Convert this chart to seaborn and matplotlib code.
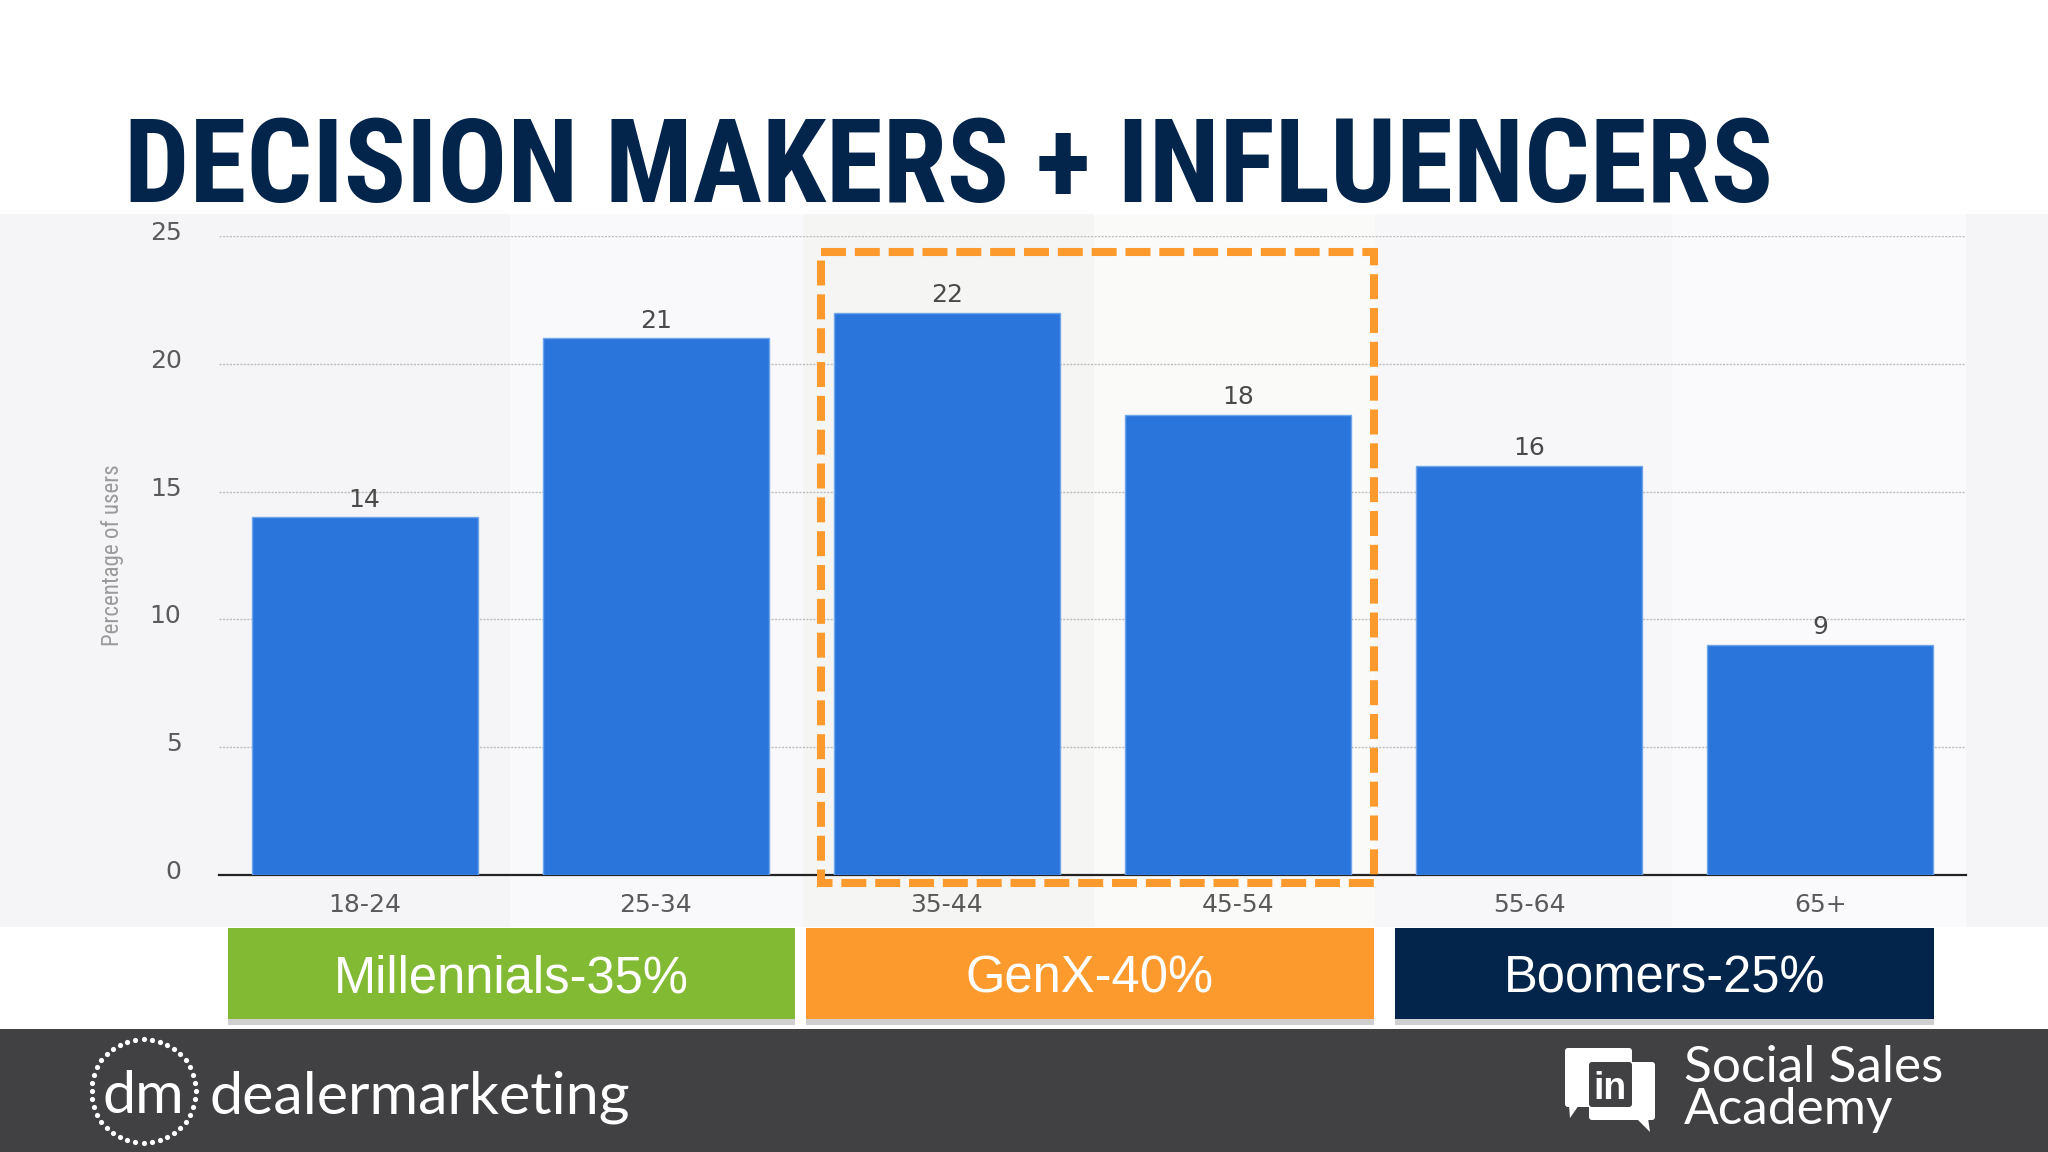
import numpy as np
import pandas as pd
import seaborn as sns
import matplotlib.pyplot as plt
from matplotlib.patches import Rectangle, FancyBboxPatch, Polygon
from matplotlib.transforms import ScaledTranslation

# =========================
# DATA
# =========================
age_groups = ['18-24', '25-34', '35-44', '45-54', '55-64', '65+']
pct_users = [14, 21, 22, 18, 16, 9]
y_ticks = [0, 5, 10, 15, 20, 25]
title = 'DECISION MAKERS + INFLUENCERS'
y_label = 'Percentage of users'
gen_labels = ['Millennials-35%', 'GenX-40%', 'Boomers-25%']

BLUE = '#2a75dc'
NAVY = '#03254c'
ORANGE = '#fd9a2e'
GREEN = '#82ba33'
DARK = '#414042'

sns.set_theme(style='white')
plt.rcParams['font.family'] = ['DejaVu Sans']

fig = plt.figure(figsize=(20.48, 11.52), dpi=100, facecolor='white')


def pixel_axes(zorder):
    a = fig.add_axes([0, 0, 1, 1], zorder=zorder)
    a.set_xlim(0, 2048)
    a.set_ylim(1152, 0)
    a.axis('off')
    a.patch.set_alpha(0)
    return a


# =========================
# Background panel + bands
# =========================
back = pixel_axes(0)
back.add_patch(Rectangle((0, 214), 2048, 713, fc='#f5f5f7', ec='none'))
bands = [(510, 803, '#f9f8fb'), (803, 1094, '#f5f5f3'), (1094, 1375, '#fafaf8'),
         (1375, 1672, '#f7f7f9'), (1672, 1966, '#fafafc')]
for x0, x1, c in bands:
    back.add_patch(Rectangle((x0, 214), x1 - x0, 713, fc=c, ec='none'))

# =========================
# Bar chart
# =========================
ax = fig.add_axes([219 / 2048, 1 - 875 / 1152, 1747 / 2048, 639 / 1152], zorder=1)
ax.patch.set_alpha(0)
df = pd.DataFrame({'age': age_groups, 'pct': pct_users})
sns.barplot(data=df, x='age', y='pct', color=BLUE, saturation=1, width=0.776,
            edgecolor='#6fa5ea', linewidth=1, ax=ax, zorder=3)
ax.set_xlim(-0.5, 5.5)
ax.set_ylim(0, 25)
ax.set_yticks(y_ticks)
ax.set_xlabel('')
ax.set_ylabel(y_label, fontsize=16.5, color='#9a9a9a', fontfamily='Roboto Condensed')
ax.yaxis.set_label_coords(-0.0545, 0.5)
ax.grid(axis='y', color='#bdbdbd', linestyle=(0, (1.5, 1)), linewidth=1)
ax.set_axisbelow(True)
for s in ['top', 'left', 'right']:
    ax.spines[s].set_visible(False)
ax.spines['bottom'].set_color('#222222')
ax.spines['bottom'].set_linewidth(1.6)
ax.tick_params(axis='both', length=0, labelsize=18, labelcolor='#5a5a5a')
ax.tick_params(axis='y', pad=27)
ax.tick_params(axis='x', pad=13)
# y labels sit a little above their grid lines
nudge = ScaledTranslation(0, 4 / 72, fig.dpi_scale_trans)
for lab in ax.get_yticklabels():
    lab.set_transform(lab.get_transform() + nudge)
ax.bar_label(ax.containers[0], padding=4, fontsize=18, color='#4a4a4a')

# =========================
# Overlays
# =========================
top = pixel_axes(2)
top.text(124, 202, title, fontsize=83.3, fontweight='bold', color=NAVY,
         fontfamily='Roboto Condensed', ha='left', va='baseline')

# dashed highlight
top.add_patch(Rectangle((821, 252), 553, 631, fc='none', ec=ORANGE, lw=5.8,
                        linestyle=(0, (3.1, 1.1))))

# generation boxes
boxes = [(228, 795, GREEN), (806, 1374, ORANGE), (1395, 1934, NAVY)]
for (x0, x1, c), lab in zip(boxes, gen_labels):
    top.add_patch(Rectangle((x0, 1019), x1 - x0, 6, fc='#cfcfcf', ec='none'))
    top.add_patch(Rectangle((x0, 928), x1 - x0, 91, fc=c, ec='none'))
    top.text((x0 + x1) / 2, 979, lab, color='white', fontsize=36.5,
             fontfamily='Liberation Sans', ha='center', va='center')

# footer
top.add_patch(Rectangle((0, 1029), 2048, 123, fc=DARK, ec='none'))
ang = np.deg2rad(np.arange(0, 360, 9))
top.scatter(143.5 + 52 * np.cos(ang), 1091 + 52 * np.sin(ang), s=14, color='white', lw=0)
top.text(143.5, 1113, 'dm', color='white', fontsize=42.7, fontfamily='Lato',
         ha='center', va='baseline')
top.text(209, 1113, 'dealermarketing', color='white', fontsize=42.7, fontfamily='Lato',
         ha='left', va='baseline')

# linkedin bubble icon
for x, y, w, h in [(1565, 1048, 67, 59), (1589, 1062, 66, 58)]:
    top.add_patch(FancyBboxPatch((x + 3, y + 3), w - 6, h - 6, boxstyle='round,pad=3',
                                 fc='white', ec='none'))
top.add_patch(Polygon([(1569, 1105), (1570, 1118), (1579, 1105)], fc='white', ec='none'))
top.add_patch(Polygon([(1636, 1118), (1650, 1132), (1648, 1118)], fc='white', ec='none'))
top.add_patch(FancyBboxPatch((1592, 1065), 37, 39, boxstyle='round,pad=3', fc=DARK, ec='none'))
top.text(1610, 1099, 'in', color='white', fontsize=27, fontweight='bold',
         fontfamily='Liberation Sans', ha='center', va='baseline')
top.text(1684, 1082, 'Social Sales', color='white', fontsize=37, fontfamily='Lato',
         ha='left', va='baseline')
top.text(1684, 1124, 'Academy', color='white', fontsize=37, fontfamily='Lato',
         ha='left', va='baseline')

fig.savefig('out.png', dpi=100)
